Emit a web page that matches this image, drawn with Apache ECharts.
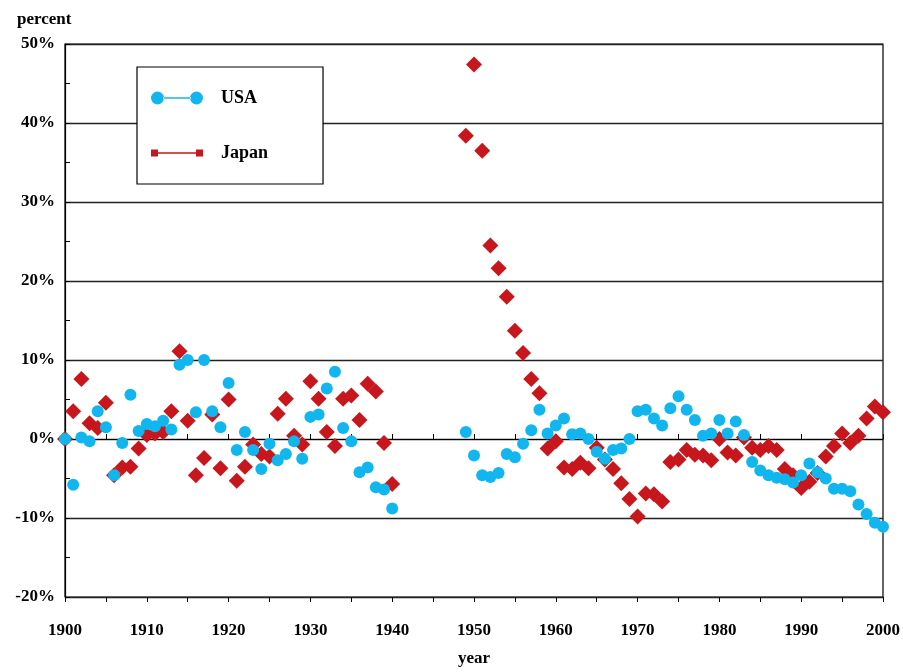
<!DOCTYPE html>
<html>
<head>
<meta charset="utf-8">
<script src="https://cdn.jsdelivr.net/npm/echarts@6/dist/echarts.min.js"></script>
<style>html,body{margin:0;padding:0;background:#fff}#c{width:903px;height:672px}</style>
</head>
<body>
<div id="c"></div>
<script>
var yearsEarly = [1900,1901,1902,1903,1904,1905,1906,1907,1908,1909,1910,1911,1912,1913,1914,1915,1916,1917,1918,1919,1920,1921,1922,1923,1924,1925,1926,1927,1928,1929,1930,1931,1932,1933,1934,1935,1936,1937,1938,1939,1940];
var yearsLate = [1949,1950,1951,1952,1953,1954,1955,1956,1957,1958,1959,1960,1961,1962,1963,1964,1965,1966,1967,1968,1969,1970,1971,1972,1973,1974,1975,1976,1977,1978,1979,1980,1981,1982,1983,1984,1985,1986,1987,1988,1989,1990,1991,1992,1993,1994,1995,1996,1997,1998,1999,2000];

var usaEarly = [0.0,-5.8,0.2,-0.3,3.5,1.5,-4.6,-0.5,5.6,1.0,1.9,1.6,2.3,1.2,9.4,10.0,3.4,10.0,3.5,1.5,7.1,-1.4,0.9,-1.4,-3.8,-0.6,-2.7,-1.9,-0.3,-2.5,2.8,3.1,6.4,8.5,1.4,-0.3,-4.2,-3.6,-6.1,-6.4,-8.8];
var usaLate = [0.9,-2.1,-4.6,-4.8,-4.3,-1.9,-2.3,-0.6,1.1,3.7,0.7,1.7,2.6,0.6,0.7,0.0,-1.6,-2.5,-1.4,-1.2,0.0,3.5,3.7,2.6,1.7,3.9,5.4,3.7,2.4,0.4,0.7,2.4,0.7,2.2,0.5,-2.9,-4.0,-4.6,-4.9,-5.1,-5.5,-4.6,-3.1,-4.2,-5.0,-6.3,-6.3,-6.6,-8.3,-9.5,-10.6,-11.1];

var japanEarly = [0.0,3.5,7.6,2.0,1.4,4.6,-4.6,-3.6,-3.5,-1.2,0.5,0.7,0.9,3.5,11.1,2.3,-4.6,-2.4,3.1,-3.7,5.0,-5.3,-3.5,-0.7,-1.9,-2.2,3.2,5.1,0.4,-0.7,7.3,5.1,0.9,-0.9,5.1,5.5,2.4,7.0,6.0,-0.5,-5.7];
var japanLate = [38.4,47.4,36.5,24.5,21.6,18.0,13.7,10.9,7.6,5.8,-1.2,-0.3,-3.6,-3.8,-3.0,-3.7,-1.1,-2.6,-3.8,-5.6,-7.6,-9.8,-6.9,-7.0,-7.9,-2.9,-2.6,-1.4,-2.0,-2.1,-2.7,0.0,-1.7,-2.1,0.2,-1.1,-1.4,-0.9,-1.4,-3.8,-4.6,-6.2,-5.4,-4.3,-2.2,-0.9,0.7,-0.5,0.4,2.6,4.1,3.4];

var seriesNames = ['USA', 'Japan'];

function pairs(years, vals) { return years.map(function (y, i) { return [y, vals[i]]; }); }
var usaData = pairs(yearsEarly, usaEarly).concat(pairs(yearsLate, usaLate));
var japanData = pairs(yearsEarly, japanEarly).concat(pairs(yearsLate, japanLate));

var serif = "'Liberation Serif', 'DejaVu Serif', serif";
var BLUE = '#12b6ef', RED = '#c8161d';

var usaIcon = 'path://M0,6.5 a6.5,6.5 0 1,0 13,0 a6.5,6.5 0 1,0 -13,0 Z M12,5.7 L40,5.7 L40,7.3 L12,7.3 Z M39,6.5 a6.5,6.5 0 1,0 13,0 a6.5,6.5 0 1,0 -13,0 Z';
var japanIcon = 'path://M0,0 L7,0 L7,7 L0,7 Z M7,2.7 L45,2.7 L45,4.3 L7,4.3 Z M45,0 L52,0 L52,7 L45,7 Z';

var chart = echarts.init(document.getElementById('c'), null, {renderer: 'canvas'});
chart.setOption({
  animation: false,
  backgroundColor: '#fff',
  textStyle: {fontFamily: serif},
  title: {
    text: 'percent', left: 12, top: 6,
    textStyle: {fontFamily: serif, fontWeight: 'bold', fontSize: 17, color: '#000'}
  },
  legend: {
    orient: 'vertical', left: 137, top: 67,
    padding: [22, 55, 22, 14],
    itemGap: 37, itemWidth: 52, itemHeight: 13,
    backgroundColor: '#fff', borderColor: '#000', borderWidth: 1.2,
    data: [
      {name: seriesNames[0], icon: usaIcon},
      {name: seriesNames[1], icon: japanIcon}
    ],
    textStyle: {fontFamily: serif, fontWeight: 'bold', fontSize: 18, color: '#000', padding: [0, 0, 0, 13]}
  },
  grid: {left: 65, right: 19, top: 44, bottom: 70, show: true, borderColor: '#000', borderWidth: 1.2, backgroundColor: 'transparent'},
  xAxis: [{
    type: 'value', min: 1900, max: 2000, interval: 5,
    name: 'year', nameLocation: 'middle', nameGap: 53,
    nameTextStyle: {fontFamily: serif, fontWeight: 'bold', fontSize: 17, color: '#000'},
    axisLine: {lineStyle: {color: '#000', width: 1.2}},
    axisTick: {inside: true, length: 5, lineStyle: {color: '#000'}},
    axisLabel: {
      margin: 25, color: '#000', fontFamily: serif, fontWeight: 'bold', fontSize: 17,
      formatter: function (v) { return v % 10 === 0 ? String(v) : ''; }
    },
    splitLine: {show: false}
  }, {
    type: 'value', min: 1900, max: 2000, interval: 5, position: 'bottom',
    axisLine: {show: false},
    axisTick: {inside: false, length: 5, lineStyle: {color: '#000'}},
    axisLabel: {show: false},
    splitLine: {show: false}
  }],
  yAxis: {
    type: 'value', min: -20, max: 50, interval: 5,
    axisLine: {show: true, lineStyle: {color: '#000', width: 1.2}},
    axisTick: {show: true, inside: true, length: 5, lineStyle: {color: '#000'}},
    axisLabel: {
      margin: 10, color: '#000', fontFamily: serif, fontWeight: 'bold', fontSize: 17,
      formatter: function (v) { return v % 10 === 0 ? v + '%' : ''; }
    },
    splitLine: {show: true, lineStyle: {color: ['#222', 'rgba(0,0,0,0)'], width: 1.3}}
  },
  series: [{
    name: seriesNames[1], type: 'scatter', symbol: 'diamond', symbolSize: 16, z: 2,
    itemStyle: {color: RED, opacity: 1},
    data: japanData
  }, {
    name: seriesNames[0], type: 'scatter', symbol: 'circle', symbolSize: 12, z: 3,
    itemStyle: {color: BLUE, opacity: 1},
    data: usaData
  }]
});
</script>
</body>
</html>
